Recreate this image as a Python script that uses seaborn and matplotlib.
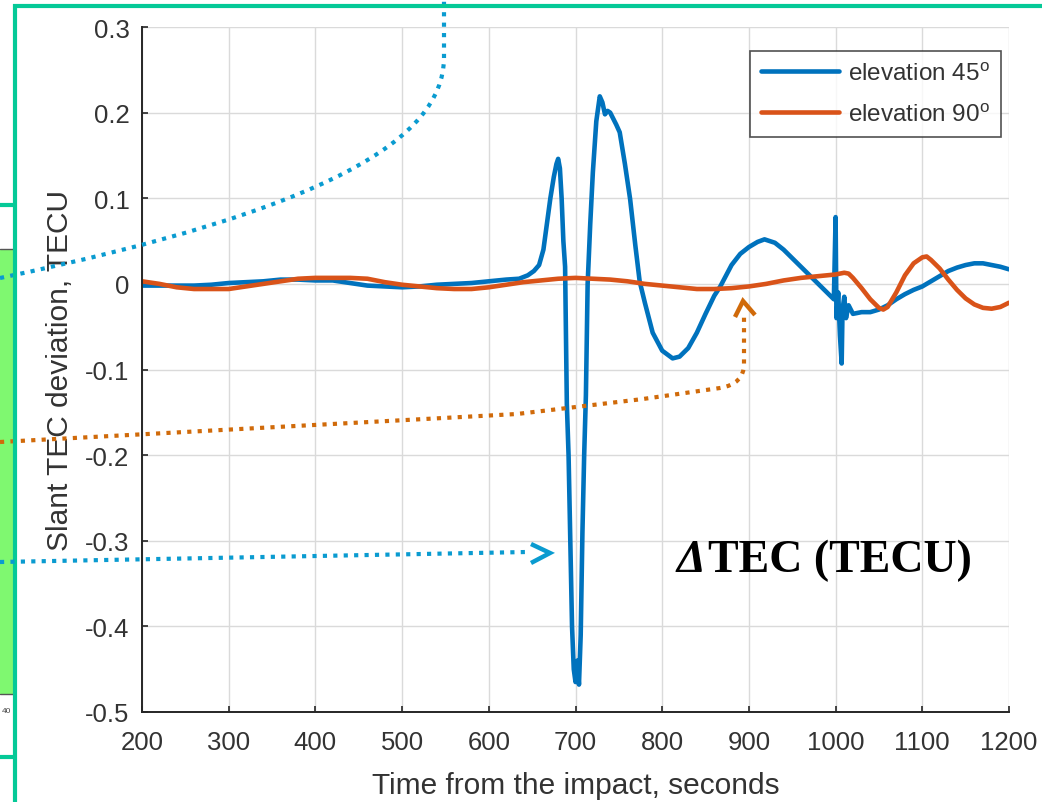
import numpy as np
import pandas as pd
import matplotlib
matplotlib.use("Agg")
import matplotlib.pyplot as plt
import seaborn as sns
from matplotlib.lines import Line2D
from matplotlib.path import Path
from matplotlib.patches import PathPatch, Rectangle

# ---------------- data ----------------
time_45 = [200, 220, 240, 260, 280, 300, 320, 340, 360, 380, 400, 420, 440, 460, 480,
           500, 520, 540, 560, 580, 600, 620, 635, 645, 652, 658, 663, 667, 671, 675,
           678, 680, 682, 684, 686, 688, 690, 692, 694, 696, 698, 700, 702, 704, 706,
           708, 710, 712, 714, 717, 720, 724, 728, 731, 734, 737, 740, 744, 747, 751,
           757, 763, 769, 774, 780, 789, 800, 812, 820, 830, 840, 850, 860, 867, 880,
           890, 900, 910, 918, 930, 940, 950, 960, 970, 980, 990, 998, 1000, 1001, 1003,
           1005, 1007, 1008, 1010, 1012, 1015, 1020, 1030, 1040, 1050, 1060, 1070, 1080,
           1090, 1100, 1110, 1120, 1130, 1140, 1150, 1160, 1170, 1180, 1190, 1200]
tec_45 = [-0.002, -0.002, -0.002, -0.002, -0.001, 0.001, 0.002, 0.003, 0.005, 0.005,
          0.004, 0.004, 0.001, -0.002, -0.003, -0.004, -0.003, -0.001, 0.0, 0.001,
          0.003, 0.005, 0.006, 0.010, 0.015, 0.022, 0.040, 0.070, 0.100, 0.125,
          0.140, 0.146, 0.135, 0.100, 0.050, 0.020, -0.140, -0.200, -0.300, -0.400,
          -0.450, -0.465, -0.440, -0.468, -0.410, -0.290, -0.200, -0.130, 0.000, 0.070,
          0.130, 0.190, 0.219, 0.212, 0.198, 0.202, 0.200, 0.192, 0.186, 0.177,
          0.140, 0.099, 0.045, 0.003, -0.022, -0.057, -0.078, -0.087, -0.085, -0.075,
          -0.057, -0.035, -0.014, -0.003, 0.022, 0.035, 0.043, 0.049, 0.052, 0.048,
          0.040, 0.030, 0.020, 0.010, 0.000, -0.010, -0.018, 0.078, -0.040, -0.010,
          -0.060, -0.093, -0.030, -0.015, -0.040, -0.025, -0.035, -0.033, -0.033, -0.030,
          -0.025, -0.018, -0.012, -0.007, -0.003, 0.003, 0.009, 0.015, 0.019, 0.022,
          0.024, 0.024, 0.022, 0.020, 0.017]

time_90 = [200, 220, 240, 260, 280, 300, 320, 340, 360, 380, 400, 420, 440, 460, 480,
           500, 520, 540, 560, 580, 600, 620, 640, 660, 680, 700, 720, 740, 760, 780,
           800, 820, 840, 860, 880, 900, 920, 940, 960, 980, 1000, 1010, 1015, 1020,
           1030, 1040, 1050, 1055, 1060, 1070, 1080, 1090, 1100, 1105, 1110, 1120, 1130,
           1140, 1150, 1160, 1170, 1180, 1190, 1200]
tec_90 = [0.003, 0.000, -0.004, -0.006, -0.006, -0.006, -0.003, 0.000, 0.003, 0.006,
          0.007, 0.007, 0.007, 0.006, 0.002, -0.001, -0.003, -0.005, -0.006, -0.006,
          -0.004, -0.001, 0.002, 0.004, 0.006, 0.007, 0.006, 0.005, 0.003, 0.000,
          -0.002, -0.004, -0.006, -0.006, -0.005, -0.003, 0.000, 0.004, 0.007, 0.009,
          0.011, 0.013, 0.012, 0.007, -0.005, -0.018, -0.028, -0.030, -0.027, -0.010,
          0.010, 0.024, 0.031, 0.032, 0.028, 0.018, 0.005, -0.007, -0.017, -0.024,
          -0.028, -0.029, -0.027, -0.022]

series_labels = ["elevation 45$^{\\mathrm{o}}$", "elevation 90$^{\\mathrm{o}}$"]
series_colors = ["#0072BD", "#D95319"]
x_ticks = [200, 300, 400, 500, 600, 700, 800, 900, 1000, 1100, 1200]
y_ticks = [0.3, 0.2, 0.1, 0.0, -0.1, -0.2, -0.3, -0.4, -0.5]
y_tick_labels = ["0.3", "0.2", "0.1", "0", "-0.1", "-0.2", "-0.3", "-0.4", "-0.5"]
x_label = "Time from the impact, seconds"
y_label = "Slant TEC deviation, TECU"
note_delta = "\u0394"
note_text = "TEC (TECU)"

# ---------------- style ----------------
sns.set_theme(style="ticks")
plt.rcParams["font.family"] = ["Liberation Sans", "DejaVu Sans"]
plt.rcParams["mathtext.fontset"] = "custom"
plt.rcParams["mathtext.rm"] = "Liberation Sans"
plt.rcParams["axes.unicode_minus"] = False

W, H = 1042, 803
fig = plt.figure(figsize=(W / 100, H / 100), dpi=100)
fig.patch.set_facecolor("white")
ax = fig.add_axes([142 / W, 1 - 713 / H, (1009 - 142) / W, (713 - 28) / H])

df = pd.concat([
    pd.DataFrame({"t": time_45, "v": tec_45, "s": series_labels[0]}),
    pd.DataFrame({"t": time_90, "v": tec_90, "s": series_labels[1]}),
], ignore_index=True)

sns.lineplot(data=df, x="t", y="v", hue="s", palette=series_colors,
             linewidth=3.3, estimator=None, sort=False, legend=False, ax=ax)

ax.set_xlim(200, 1200)
ax.set_ylim(-0.5, 0.3)
ax.set_xticks(x_ticks)
ax.set_xticklabels([str(v) for v in x_ticks])
ax.set_yticks(y_ticks)
ax.set_yticklabels(y_tick_labels)
ax.grid(True, color="#dadada", linewidth=1.0)
ax.set_axisbelow(True)
for side in ["top", "right"]:
    ax.spines[side].set_visible(False)
for side in ["left", "bottom"]:
    ax.spines[side].set_color("#262626")
    ax.spines[side].set_linewidth(1.4)
ax.tick_params(direction="in", length=4, width=1.2, colors="#262626",
               labelsize=18.5, labelcolor="#333333")
ax.tick_params(axis="x", pad=13)
ax.tick_params(axis="y", pad=9)
ax.set_xlabel(x_label, fontsize=21.5, color="#333333", labelpad=12)
ax.set_ylabel(y_label, fontsize=21.5, color="#333333", labelpad=8)

handles = [Line2D([0], [0], color=c, lw=3.3) for c in series_colors]
leg = ax.legend(handles, series_labels, loc="upper right",
                bbox_to_anchor=((1001 - 142) / 867, (713 - 52) / 685),
                borderaxespad=0, fontsize=17.5, frameon=True, fancybox=False,
                handlelength=3.2, handletextpad=0.4, borderpad=0.45,
                labelspacing=0.75, edgecolor="#262626")
leg.get_frame().set_linewidth(1.2)
for t in leg.get_texts():
    t.set_color("#333333")

# ---------------- overlay decorations (pixel space) ----------------
ov = fig.add_axes([0, 0, 1, 1], zorder=5)
ov.set_xlim(0, W)
ov.set_ylim(H, 0)
ov.axis("off")
ov.patch.set_alpha(0)

teal = "#05C997"
ov.add_patch(Rectangle((0, 250), 13, 445, facecolor="#7FF870", edgecolor="none"))
ov.plot([0, 13], [250, 250], color="#555555", lw=1)
ov.plot([0, 13], [695, 695], color="#555555", lw=1)
ov.text(2, 712, "40", fontsize=6, color="#444444", va="center")
ov.plot([13, W], [7, 7], color=teal, lw=3.0, solid_capstyle="butt")
ov.plot([15, 15], [5, H], color=teal, lw=3.0, solid_capstyle="butt")
ov.plot([0, 15], [206, 206], color=teal, lw=3.0, solid_capstyle="butt")
ov.plot([0, 15], [758, 758], color=teal, lw=3.0, solid_capstyle="butt")

dot = (0, (1, 1.5))
blue_d = "#0A9BD0"
orng_d = "#D06A0A"
p1 = Path([(0, 279), (330, 210), (442, 140), (444, 60), (444, 0)],
          [Path.MOVETO, Path.CURVE4, Path.CURVE4, Path.CURVE4, Path.LINETO])
ov.add_patch(PathPatch(p1, fill=False, edgecolor=blue_d, lw=3.0, linestyle=dot,
                       capstyle="butt"))
p2 = Path([(0, 443), (517, 415), (643, 400), (720, 389), (744, 385), (744, 365),
           (744, 318)],
          [Path.MOVETO, Path.LINETO, Path.LINETO, Path.LINETO, Path.CURVE3,
           Path.CURVE3, Path.LINETO])
ov.add_patch(PathPatch(p2, fill=False, edgecolor=orng_d, lw=3.0, linestyle=dot,
                       capstyle="butt"))
ov.plot([735, 743, 755], [318, 302, 316], color=orng_d, lw=3.2,
        solid_capstyle="butt", solid_joinstyle="miter")
ov.plot([0, 527], [563, 553], color=blue_d, lw=3.0, linestyle=dot,
        dash_capstyle="butt")
ov.plot([531, 550, 531], [545, 554, 564], color=blue_d, lw=3.2,
        solid_capstyle="butt", solid_joinstyle="miter")

ov.text(677, 572, note_delta, fontsize=33, fontweight="bold", fontstyle="italic",
        family=["Liberation Serif", "DejaVu Serif"], color="black", va="baseline",
        ha="left")
ov.text(708, 572, note_text, fontsize=33, fontweight="bold",
        family=["Liberation Serif", "DejaVu Serif"], color="black", va="baseline",
        ha="left")

fig.savefig("out.png", dpi=100)
